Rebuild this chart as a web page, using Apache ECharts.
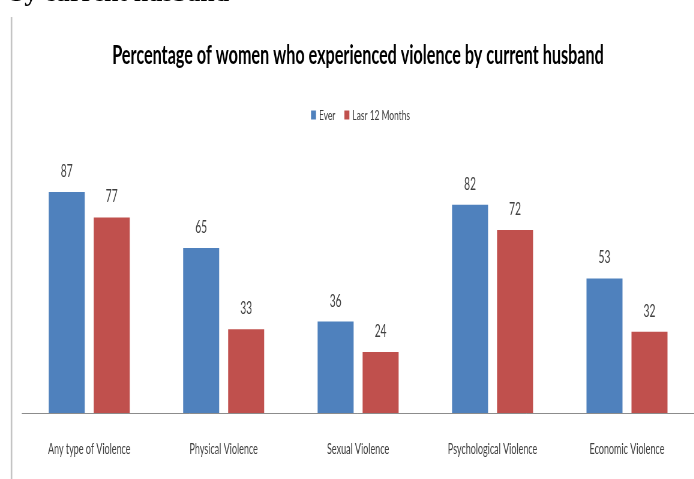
<!DOCTYPE html>
<html>
<head>
<meta charset="utf-8">
<script src="https://cdn.jsdelivr.net/npm/echarts@6/dist/echarts.min.js"></script>
<style>
  html, body { margin: 0; padding: 0; background: #fff; overflow: hidden; }
  #main { height: 479px; transform-origin: 0 0; }
</style>
</head>
<body>
<div id="main"></div>
<script>
// chart data
var categories = ['Any type of Violence', 'Physical Violence', 'Sexual Violence', 'Psychological Violence', 'Economic Violence'];
var everValues = [87, 65, 36, 82, 53];
var last12Values = [77, 33, 24, 72, 32];
var seriesNames = ['Ever', 'Lasr 12 Months'];

// the picture is squeezed sideways, so draw wide and squeeze the canvas
var S = 0.6;
var W = Math.round(694 / S);
var box = document.getElementById('main');
box.style.width = W + 'px';
box.style.transform = 'scaleX(' + S + ')';

var font = 'Lato, "Open Sans", sans-serif';
var myChart = echarts.init(box);
var option = {
    backgroundColor: '#fff',
    animation: false,
    title: {
        text: 'Percentage of women who experienced violence by current husband',
        left: 358 / S,
        top: 42,
        padding: 0,
        textAlign: 'center',
        textStyle: { fontFamily: font, fontSize: 27, fontWeight: 'bold', color: '#000' }
    },
    legend: {
        data: seriesNames,
        left: 311 / S,
        top: 108,
        padding: 0,
        icon: 'rect',
        itemWidth: 5 / S,
        itemHeight: 9,
        itemGap: 9 / S,
        textStyle: { fontFamily: font, fontSize: 14, color: '#404040' }
    },
    grid: {
        left: 22 / S,
        width: 700 / S,
        top: 159,
        height: 254
    },
    xAxis: {
        type: 'category',
        data: categories,
        axisLine: { lineStyle: { color: '#8c8c8c', width: 1 } },
        axisTick: { show: false },
        axisLabel: { margin: 29, fontFamily: font, fontSize: 15, color: '#404040' }
    },
    yAxis: {
        type: 'value',
        min: 0,
        max: 100,
        show: false
    },
    series: [
        {
            name: seriesNames[0],
            type: 'bar',
            data: everValues,
            barWidth: 36 / S,
            barGap: '25%',
            itemStyle: { color: '#4f81bd' },
            label: { show: true, position: 'top', distance: 12, fontFamily: font, fontSize: 17, color: '#404040' }
        },
        {
            name: seriesNames[1],
            type: 'bar',
            data: last12Values,
            barWidth: 36 / S,
            itemStyle: { color: '#c0504d' },
            label: { show: true, position: 'top', distance: 12, fontFamily: font, fontSize: 17, color: '#404040' }
        }
    ],
    graphic: [
        {   // frame edge on the left
            type: 'line',
            shape: { x1: 11.5 / S, y1: 17, x2: 11.5 / S, y2: 479 },
            style: { stroke: '#c4c4c4', lineWidth: 1.6 / S }
        },
        {   // cut-off document heading above the chart
            type: 'text',
            x: 10 / S,
            y: -6,
            scaleX: 1 / S,
            style: {
                text: 'by current husband',
                font: 'bold 26px "Liberation Serif", serif',
                fill: '#000',
                verticalAlign: 'middle'
            }
        }
    ]
};
myChart.setOption(option);
</script>
</body>
</html>
